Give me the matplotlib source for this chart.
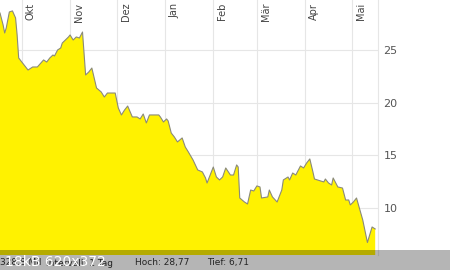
import matplotlib
matplotlib.use("Agg")
import matplotlib.pyplot as plt
import matplotlib.dates as mdates
from matplotlib.patches import Rectangle
import pandas as pd

start_date = "2022-09-17"
day_offsets = [0, 2, 3, 4, 6, 8, 10, 11, 12, 14, 16, 18, 21, 24, 28, 30, 32, 34, 35, 37,
               39, 40, 42, 44, 45, 47, 49, 51, 53, 55, 57, 59, 62, 65, 67, 69, 74, 76, 78, 80,
               82, 85, 88, 90, 92, 94, 96, 100, 102, 103, 105, 107, 108, 110, 112, 114, 117, 119, 121, 124,
               127, 130, 132, 133, 135, 137, 139, 141, 143, 145, 148, 150, 152, 153, 154, 157, 159, 161, 163, 165,
               167, 168, 172, 173, 175, 178, 181, 182, 185, 186, 188, 190, 193, 195, 197, 199, 201, 202, 206, 208,
               209, 211, 213, 214, 217, 220, 222, 224, 225, 227, 229, 233, 236, 239, 241]
prices = [28.57, 27.43, 26.67, 27.14, 28.67, 28.77, 28.10, 26.48, 24.29, 23.90, 23.52, 23.14, 23.43, 23.43, 24.10, 23.90, 24.29, 24.57, 24.48, 25.05,
          25.24, 25.71, 26.00, 26.29, 26.48, 26.00, 26.29, 26.19, 26.76, 22.67, 22.95, 23.33, 21.43, 21.05, 20.57, 20.95, 20.95, 19.52, 18.86, 19.33,
          19.71, 18.67, 18.67, 18.48, 18.95, 18.10, 18.86, 18.86, 18.86, 18.67, 18.19, 18.48, 18.29, 17.14, 16.76, 16.29, 16.67, 15.81, 15.33, 14.57,
          13.62, 13.43, 12.86, 12.38, 13.14, 13.90, 12.95, 12.67, 12.95, 13.81, 13.14, 13.14, 14.10, 13.90, 10.95, 10.57, 10.38, 11.71, 11.62, 12.10,
          12.00, 10.95, 11.05, 11.71, 11.05, 10.57, 11.71, 12.67, 12.95, 12.67, 13.33, 13.14, 14.00, 13.81, 14.29, 14.67, 13.43, 12.76, 12.57, 12.48,
          12.76, 12.38, 12.19, 12.86, 12.00, 11.90, 10.76, 10.76, 10.29, 10.57, 10.95, 8.86, 6.71, 8.19, 8.00]
month_labels = ["Okt", "Nov", "Dez", "Jan", "Feb", "Mär", "Apr", "Mai"]
month_starts = ["2022-10-01", "2022-11-01", "2022-12-01", "2023-01-01", "2023-02-01",
                "2023-03-01", "2023-04-01", "2023-05-01"]
y_ticks = [10, 15, 20, 25]
footer_items = ["328,8 Mil", "Intervall: 1 Tag", "Hoch: 28,77", "Tief: 6,71"]
watermark = "18kB 620x372"

dates = pd.Timestamp(start_date) + pd.to_timedelta(day_offsets, unit="D")
mdates_ = pd.to_datetime(month_starts)

W, H = 450, 270
fig = plt.figure(figsize=(W / 100, H / 100), dpi=100)
ax = fig.add_axes([0, 15 / H, 378 / W, 1 - 15 / H])

ax.fill_between(dates, prices, 0, color="#fff200", linewidth=0, zorder=2)
ax.plot(dates, prices, color="#8a8a7a", linewidth=0.8, zorder=3)

ax.set_ylim(5.52, 29.81)
ax.set_xlim(pd.Timestamp(start_date), pd.Timestamp(start_date) + pd.Timedelta(days=242.8))

for d in mdates_:
    ax.axvline(d, color="#e6e6e6", linewidth=0.8, zorder=1)
for yv in y_ticks:
    ax.axhline(yv, color="#e6e6e6", linewidth=0.8, zorder=1)

for d, lab in zip(mdates_, month_labels):
    ax.annotate(lab, xy=(mdates.date2num(d), 1), xycoords=("data", "axes fraction"),
                xytext=(3, -2), textcoords="offset points", rotation=90,
                ha="left", va="top", fontsize=7, color="#444444",
                family="DejaVu Sans", zorder=4)

ax.set_xticks([])
ax.yaxis.tick_right()
ax.set_yticks(y_ticks)
ax.set_yticklabels([str(v) for v in y_ticks], fontsize=8, color="#555555")
ax.tick_params(axis="y", length=0, pad=4)
for s in ["top", "left", "bottom"]:
    ax.spines[s].set_visible(False)
ax.spines["right"].set_color("#e6e6e6")
ax.spines["right"].set_linewidth(0.8)

# footer
footer_x = [0, 46, 135, 207]
for x, t in zip(footer_x, footer_items):
    fig.text(x / W, 1 - 263 / H, t, fontsize=6.5, color="#333333", va="center", ha="left")

# dark overlay band
fig.patches.append(Rectangle((0, 0), 1, 20 / H, transform=fig.transFigure,
                             facecolor="black", alpha=0.29, edgecolor="none", zorder=10))
fig.text(5 / W, 1 - 262 / H, watermark, fontsize=10, color="white",
         va="center", ha="left", zorder=11)

fig.savefig("out.png", dpi=100)
